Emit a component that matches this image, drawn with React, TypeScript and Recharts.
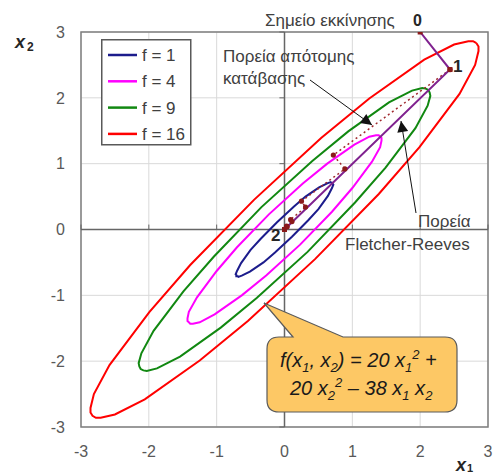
import React from 'react';
import {
  ComposedChart,
  Line,
  XAxis,
  YAxis,
  CartesianGrid,
  ReferenceLine,
  ReferenceArea,
} from 'recharts';

type Pt = [number, number];

const TICKS = [-3, -2, -1, 0, 1, 2, 3];

// contour lines
const F1: Pt[] = [
  [0.71, 0.71], [0.71, 0.69], [0.72, 0.68], [0.7, 0.63], [0.64, 0.51], [0.5, 0.31], [0.35, 0.14],
  [0.11, -0.11], [-0.14, -0.35], [-0.31, -0.5], [-0.51, -0.64], [-0.63, -0.7], [-0.68, -0.72],
  [-0.69, -0.71], [-0.71, -0.71], [-0.71, -0.69], [-0.72, -0.68], [-0.7, -0.63], [-0.64, -0.51],
  [-0.5, -0.31], [-0.35, -0.14], [-0.11, 0.11], [0.14, 0.35], [0.31, 0.5], [0.51, 0.64],
  [0.63, 0.7], [0.68, 0.72], [0.69, 0.71], [0.71, 0.71],
];
const F4: Pt[] = [
  [1.41, 1.41], [1.43, 1.39], [1.43, 1.35], [1.41, 1.25], [1.29, 1.03], [1.0, 0.63], [0.7, 0.27],
  [0.23, -0.23], [-0.27, -0.7], [-0.63, -1.0], [-1.03, -1.29], [-1.25, -1.41], [-1.35, -1.43],
  [-1.39, -1.43], [-1.41, -1.41], [-1.43, -1.39], [-1.43, -1.35], [-1.41, -1.25], [-1.29, -1.03],
  [-1.0, -0.63], [-0.7, -0.27], [-0.23, 0.23], [0.27, 0.7], [0.63, 1.0], [1.03, 1.29],
  [1.25, 1.41], [1.35, 1.43], [1.39, 1.43], [1.41, 1.41],
];
const F9: Pt[] = [
  [2.12, 2.12], [2.14, 2.08], [2.15, 2.03], [2.11, 1.88], [1.93, 1.54], [1.49, 0.94], [1.04, 0.41],
  [0.34, -0.34], [-0.41, -1.04], [-0.94, -1.49], [-1.54, -1.93], [-1.88, -2.11], [-2.03, -2.15],
  [-2.08, -2.14], [-2.12, -2.12], [-2.14, -2.08], [-2.15, -2.03], [-2.11, -1.88], [-1.93, -1.54],
  [-1.49, -0.94], [-1.04, -0.41], [-0.34, 0.34], [0.41, 1.04], [0.94, 1.49], [1.54, 1.93],
  [1.88, 2.11], [2.03, 2.15], [2.08, 2.14], [2.12, 2.12],
];
const F16: Pt[] = [
  [2.83, 2.83], [2.86, 2.78], [2.86, 2.71], [2.81, 2.5], [2.58, 2.06], [1.99, 1.25], [1.39, 0.54],
  [0.45, -0.45], [-0.54, -1.39], [-1.25, -1.99], [-2.06, -2.58], [-2.5, -2.81], [-2.71, -2.86],
  [-2.78, -2.86], [-2.83, -2.83], [-2.86, -2.78], [-2.86, -2.71], [-2.81, -2.5], [-2.58, -2.06],
  [-1.99, -1.25], [-1.39, -0.54], [-0.45, 0.45], [0.54, 1.39], [1.25, 1.99], [2.06, 2.58],
  [2.5, 2.81], [2.71, 2.86], [2.78, 2.86], [2.83, 2.83],
];

const FLETCHER_REEVES: Pt[] = [[2, 3], [2.44, 2.43], [0, 0]];
const STEEPEST_DESCENT: Pt[] = [
  [2.44, 2.43], [0.72, 1.13], [0.89, 0.92], [0.25, 0.43], [0.31, 0.34],
  [0.09, 0.15], [0.11, 0.12], [0.03, 0.05], [0.04, 0.04],
];

const CONTOURS = [
  { name: 'f = 1', color: '#1c1c8c', points: F1 },
  { name: 'f = 4', color: '#ff00ff', points: F4 },
  { name: 'f = 9', color: '#118811', points: F9 },
  { name: 'f = 16', color: '#ff0000', points: F16 },
];

const FONT = '"Liberation Sans", Arial, sans-serif';
const TEXT_COLOR = '#404040';

const toRows = (pts: Pt[]) => pts.map(([x, y]) => ({ x, y }));

const squareDot = (color: string) => (p: any) => (
  <rect key={`sq-${p.index}`} x={p.cx - 2.5} y={p.cy - 2.5} width={5} height={5} fill={color} />
);
const roundDot = (p: any) => (
  <circle key={`rd-${p.index}`} cx={p.cx} cy={p.cy} r={2.6} fill="#8b1a1a" />
);

const Annotations = () => (
  <svg
    width={499}
    height={475}
    style={{ position: 'absolute', left: 0, top: 0, pointerEvents: 'none' }}
    fontFamily={FONT}
  >
    <defs>
      <marker id="arrow" viewBox="0 0 10 10" refX={10} refY={5} markerWidth={14} markerHeight={11}
        markerUnits="userSpaceOnUse" orient="auto">
        <path d="M0,0 L10,5 L0,10 z" fill="#111" />
      </marker>
    </defs>

    {/* legend */}
    <g transform="translate(101,39)">
      <rect x={0.75} y={0.75} width={89} height={105} fill="#fff" stroke="#595959" strokeWidth={1.5} />
      {CONTOURS.map((c, i) => (
        <g key={c.name}>
          <line x1={7} x2={36} y1={16 + i * 26.3} y2={16 + i * 26.3} stroke={c.color} strokeWidth={2.5} />
          <text x={41} y={22 + i * 26.3} fontSize={17} fill={TEXT_COLOR}>{c.name}</text>
        </g>
      ))}
    </g>

    {/* axis titles */}
    <text x={15} y={48} fontSize={18} fontWeight="bold" fontStyle="italic" fill="#262626">x</text>
    <text x={27} y={51} fontSize={12} fontWeight="bold" fill="#262626">2</text>
    <text x={456} y={471} fontSize={18} fontWeight="bold" fontStyle="italic" fill="#262626">x</text>
    <text x={467} y={472} fontSize={11} fontWeight="bold" fill="#262626">1</text>

    {/* point labels */}
    <text x={265} y={26} fontSize={17} fill={TEXT_COLOR}>Σημείο εκκίνησης</text>
    <text x={413} y={26} fontSize={16} fontWeight="bold" fill="#262626">0</text>
    <text x={453} y={72} fontSize={17} fontWeight="bold" fill="#262626">1</text>
    <text x={271} y={241} fontSize={17} fontWeight="bold" fill="#262626">2</text>

    <text x={223} y={62} fontSize={17} fill={TEXT_COLOR}>Πορεία απότομης</text>
    <text x={223} y={84} fontSize={17} fill={TEXT_COLOR}>κατάβασης</text>
    <line x1={310} y1={80} x2={372} y2={125} stroke="#111" strokeWidth={1} markerEnd="url(#arrow)" />

    <text x={418} y={227} fontSize={17} fill={TEXT_COLOR}>Πορεία</text>
    <text x={345} y={250} fontSize={17} fill={TEXT_COLOR}>Fletcher-Reeves</text>
    <line x1={416} y1={213} x2={401} y2={121} stroke="#111" strokeWidth={1} markerEnd="url(#arrow)" />

    {/* callout */}
    <path
      d="M279,337 L293,337 L264,303 L343,337 L445,337 Q457,337 457,349 L457,400 Q457,412 445,412
         L279,412 Q267,412 267,400 L267,349 Q267,337 279,337 Z"
      fill="#fdc865"
      stroke="#5a5a5a"
      strokeWidth={1.2}
    />
    <text x={280} y={367} fontSize={20} fontStyle="italic" fill="#1a1a1a">
      <tspan>f(x</tspan>
      <tspan fontSize={13} dy={5}>1</tspan>
      <tspan dy={-5}>, x</tspan>
      <tspan fontSize={13} dy={5}>2</tspan>
      <tspan dy={-5}>) = 20 x</tspan>
      <tspan fontSize={13} dy={5}>1</tspan>
      <tspan fontSize={13} dy={-13}>2</tspan>
      <tspan dy={8}> +</tspan>
    </text>
    <text x={290} y={395} fontSize={20} fontStyle="italic" fill="#1a1a1a">
      <tspan>20 x</tspan>
      <tspan fontSize={13} dy={5}>2</tspan>
      <tspan fontSize={13} dy={-13}>2</tspan>
      <tspan dy={8}> – 38 x</tspan>
      <tspan fontSize={13} dy={5}>1</tspan>
      <tspan dy={-5}> x</tspan>
      <tspan fontSize={13} dy={5}>2</tspan>
    </text>
  </svg>
);

const tickStyle = { fill: '#595959', fontSize: 16, fontFamily: FONT };

export default function App() {
  return (
    <div style={{ position: 'absolute', left: 0, top: 0, width: 499, height: 475, background: '#fff' }}>
      <ComposedChart width={499} height={475} margin={{ top: 32, right: 11, bottom: 18, left: 41 }}>
        <CartesianGrid stroke="#d9d9d9" strokeWidth={1} />
        <XAxis
          type="number"
          dataKey="x"
          domain={[-3, 3]}
          ticks={TICKS}
          allowDataOverflow
          axisLine={false}
          tickLine={false}
          tickSize={0}
          tickMargin={19}
          height={30}
          tick={tickStyle}
        />
        <YAxis
          type="number"
          dataKey="y"
          domain={[-3, 3]}
          ticks={TICKS}
          allowDataOverflow
          axisLine={false}
          tickLine={false}
          tickSize={0}
          tickMargin={16}
          width={40}
          tick={tickStyle}
        />
        <ReferenceArea x1={-3} x2={3} y1={-3} y2={3} fill="none" stroke="#7f7f7f" strokeWidth={1.5} />
        <ReferenceLine x={0} stroke="#666" strokeWidth={1.5} />
        <ReferenceLine y={0} stroke="#666" strokeWidth={1.5} />
        {TICKS.filter((t) => t !== 0).map((t) => (
          <ReferenceLine key={`tx${t}`} segment={[{ x: t, y: 0 }, { x: t, y: 0.075 }]} stroke="#666" />
        ))}
        {TICKS.filter((t) => t !== 0).map((t) => (
          <ReferenceLine key={`ty${t}`} segment={[{ x: -0.075, y: t }, { x: 0, y: t }]} stroke="#666" />
        ))}
        {CONTOURS.map((c) => (
          <Line
            key={c.name}
            name={c.name}
            data={toRows(c.points)}
            dataKey="y"
            type="linear"
            stroke={c.color}
            strokeWidth={2}
            dot={false}
            isAnimationActive={false}
          />
        ))}
        <Line
          name="steepest"
          data={toRows(STEEPEST_DESCENT)}
          dataKey="y"
          type="linear"
          stroke="#a0282d"
          strokeWidth={1.5}
          strokeDasharray="2 3"
          dot={roundDot}
          isAnimationActive={false}
        />
        <Line
          name="fletcher"
          data={toRows(FLETCHER_REEVES)}
          dataKey="y"
          type="linear"
          stroke="#80228f"
          strokeWidth={2}
          dot={squareDot('#8b1a1a')}
          isAnimationActive={false}
        />
      </ComposedChart>
      <Annotations />
    </div>
  );
}
